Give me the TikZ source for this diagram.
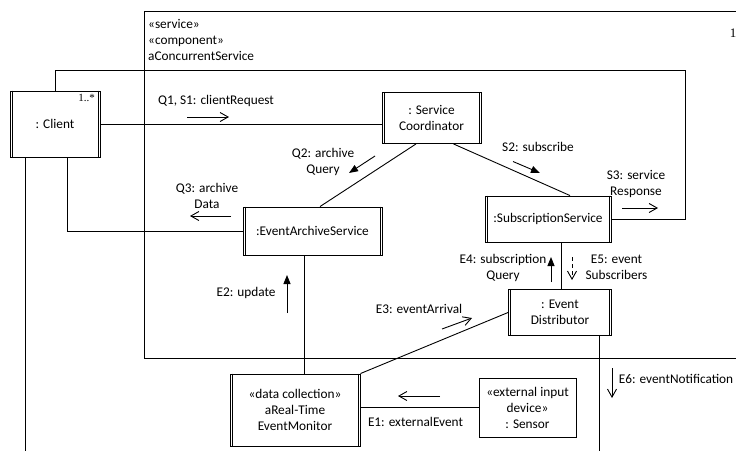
\documentclass[tikz,border=0pt]{standalone}
\usepackage{fontspec}
\setmainfont{Carlito}
\newfontfamily\multfont{Liberation Serif}
\usetikzlibrary{arrows.meta}

\begin{document}
\begin{tikzpicture}[x=1pt,y=-1pt,
  every node/.style={font=\fontsize{13.3}{16}\selectfont, inner sep=0pt},
  obj/.style={draw, line width=0.9pt, align=center, inner sep=0pt},
  ln/.style={line width=0.9pt},
  async/.style={line width=0.9pt, -{Straight Barb[length=8pt,width=9pt]}},
  sync/.style={line width=0.9pt, -{Triangle[length=9pt,width=7pt]}},
  lbl/.style={align=center},
  mult/.style={font=\multfont\fontsize{11}{13}\selectfont}
]
\useasboundingbox (0,0) rectangle (736,450);

% composite service frame (open to the right)
\draw[ln] (737,11) -- (144,11) -- (144,358) -- (737,358);
\node[anchor=west, align=left] (stereo) at (148,40) {«service»\\«component»\\aConcurrentService};
\node[mult, font=\multfont\fontsize{13}{15}\selectfont] (multsvc) at (733,33) {1};

% objects
\node[obj, minimum width=90pt, minimum height=66pt] (client) at (55,124) {: Client};
\node[obj, minimum width=99pt, minimum height=51pt] (coord) at (431.5,118) {: Service\\Coordinator};
\node[obj, minimum width=126pt, minimum height=46pt] (subs) at (548,219) {:SubscriptionService};
\node[obj, minimum width=139pt, minimum height=48pt] (eas) at (312.5,231) {:EventArchiveService};
\node[obj, minimum width=103pt, minimum height=46pt] (dist) at (560,312.5) {: Event\\Distributor};
\node[obj, minimum width=130pt, minimum height=72pt] (mon) at (295,410) {«data collection»\\aReal-Time\\EventMonitor};
\node[obj, minimum width=97pt, minimum height=59pt] (sensor) at (527.5,407.5) {«external input\\device»\\: Sensor};
\node[mult] (multcl) at (86.5,97.5) {1..*};

% active objects: inner vertical bars
\foreach \n in {client,coord,subs,eas,dist,mon}{
  \draw[ln] ([xshift=2.5pt]\n.north west) -- ([xshift=2.5pt]\n.south west);
  \draw[ln] ([xshift=-2.5pt]\n.north east) -- ([xshift=-2.5pt]\n.south east);
}

% connectors
\coordinate (s3corner) at (685,70);
\draw[ln] (client.east) -- (client.east -| coord.west);
\draw[ln] (client.north) |- (s3corner) |- (subs.east);
\draw[ln] ([xshift=-30pt]client.south) -- ++(0,300);
\draw[ln] ([xshift=12.5pt]client.south) |- (eas.west);
\draw[ln] ([xshift=-15.5pt]coord.south) -- ([xshift=7.5pt]eas.north);
\draw[ln] ([xshift=22pt]coord.south) -- ([xshift=22pt]subs.north);
\draw[ln] ([xshift=-8.5pt]eas.south) -- ([xshift=9pt]mon.north);
\draw[ln] ([xshift=13.5pt]subs.south) -- ([xshift=1.5pt]dist.north);
\draw[ln] (mon.north east) -- (dist.west);
\draw[ln] (sensor.west) -- (sensor.west -| mon.east);
\draw[ln] ([xshift=39pt]dist.south) -- ++(0,120);

% message arrows
\draw[async] (187,117) -- (229,117);
\draw[sync] (375,156) -- (349,173);
\draw[async] (231,216) -- (190,216);
\draw[sync] (513,161.5) -- (540,173);
\draw[async] (622,208) -- (658,208);
\draw[sync] (287,313) -- (287,275);
\draw[async] (442,329) -- (472,318);
\draw[sync] (551,282) -- (551,257);
\draw[async, dash pattern=on 4pt off 3pt] (572,257) -- (572,280);
\draw[async] (440,396) -- (398,396);
\draw[async] (612,368) -- (612,398);

% message labels
\node[lbl] (q1) at (216,101) {Q1, S1: clientRequest};
\node[lbl] (q2) at (323,161.5) {Q2: archive\\Query};
\node[lbl] (q3) at (207,195.5) {Q3: archive\\Data};
\node[lbl] (s2) at (538,147) {S2: subscribe};
\node[lbl] (s3) at (636,184) {S3: service\\Response};
\node[lbl] (e2) at (246,293) {E2: update};
\node[lbl] (e3) at (419,309) {E3: eventArrival};
\node[lbl] (e4) at (503,267.5) {E4: subscription\\Query};
\node[lbl] (e5) at (616.5,267.5) {E5: event\\Subscribers};
\node[lbl] (e6) at (676,379) {E6: eventNotification};
\node[lbl] (e1) at (415.5,422) {E1: externalEvent};
\end{tikzpicture}
\end{document}
